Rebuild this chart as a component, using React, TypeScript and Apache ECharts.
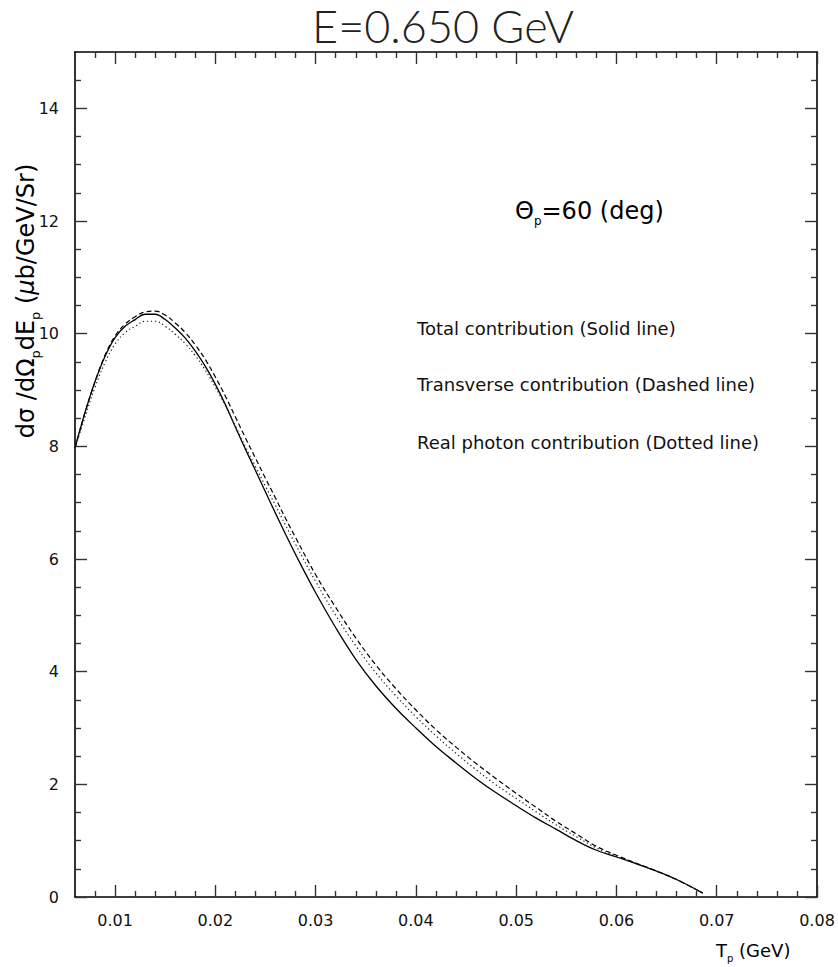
import React, { useEffect, useRef } from "react";
import * as echarts from "echarts";

// Kinetic energy of the proton T_p (GeV)
const tpValues = [
  0.006, 0.007, 0.008, 0.009, 0.01, 0.011, 0.012, 0.013, 0.014, 0.015, 0.016,
  0.017, 0.018, 0.019, 0.02, 0.021, 0.022, 0.023, 0.024, 0.025, 0.026, 0.027,
  0.028, 0.03, 0.032, 0.034, 0.036, 0.038, 0.04, 0.042, 0.044, 0.046, 0.048,
  0.05, 0.052, 0.054, 0.056, 0.058, 0.06, 0.062, 0.064, 0.066, 0.0686,
];
// Total contribution (solid line)
const totalValues = [
  7.97, 8.6, 9.15, 9.6, 9.93, 10.13, 10.25, 10.345, 10.345, 10.25, 10.1,
  9.92, 9.69, 9.42, 9.1, 8.74, 8.34, 7.95, 7.57, 7.19, 6.81, 6.44,
  6.08, 5.4, 4.78, 4.22, 3.75, 3.35, 3.0, 2.67, 2.38, 2.1, 1.85,
  1.62, 1.4, 1.2, 1.0, 0.83, 0.71, 0.59, 0.46, 0.31, 0.07,
];
// Transverse contribution (dashed line)
const transverseValues = [
  7.97, 8.6, 9.15, 9.62, 9.96, 10.17, 10.3, 10.385, 10.4, 10.33, 10.19,
  10.02, 9.8, 9.54, 9.23, 8.89, 8.52, 8.15, 7.79, 7.43, 7.08, 6.72,
  6.38, 5.72, 5.14, 4.6, 4.12, 3.7, 3.32, 2.97, 2.66, 2.37, 2.1,
  1.84, 1.59, 1.34, 1.12, 0.9, 0.74, 0.6, 0.46, 0.31, 0.07,
];
// Real photon contribution (dotted line)
const realPhotonValues = [
  7.97, 8.52, 9.05, 9.49, 9.82, 10.02, 10.13, 10.22, 10.22, 10.13, 9.99,
  9.82, 9.61, 9.35, 9.05, 8.72, 8.36, 7.99, 7.64, 7.29, 6.95, 6.6,
  6.26, 5.6, 5.0, 4.46, 3.98, 3.57, 3.2, 2.86, 2.55, 2.26, 1.99,
  1.75, 1.51, 1.28, 1.07, 0.87, 0.72, 0.59, 0.46, 0.31, 0.07,
];

const xMajorTicks = [0.01, 0.02, 0.03, 0.04, 0.05, 0.06, 0.07, 0.08];
const xMinorTicks = [
  0.008, 0.012, 0.014, 0.016, 0.018, 0.022, 0.024, 0.026, 0.028, 0.032, 0.034,
  0.036, 0.038, 0.042, 0.044, 0.046, 0.048, 0.052, 0.054, 0.056, 0.058, 0.062,
  0.064, 0.066, 0.068, 0.072, 0.074, 0.076, 0.078,
];
const yMajorTicks = [0, 2, 4, 6, 8, 10, 12, 14];
const yMinorTicks = [
  0.5, 1, 1.5, 2.5, 3, 3.5, 4.5, 5, 5.5, 6.5, 7, 7.5, 8.5, 9, 9.5, 10.5, 11,
  11.5, 12.5, 13, 13.5, 14.5,
];

const titleText = "E=0.650 GeV";
const annotationLines = [
  "Total contribution (Solid line)",
  "Transverse contribution (Dashed line)",
  "Real photon contribution (Dotted line)",
];

const X_MIN = 0.006;
const X_MAX = 0.08;
const Y_MIN = 0;
const Y_MAX = 15;

const FONT = "'DejaVu Sans', 'Noto Sans', sans-serif";
const INK = "#000";

function pairs(ys: number[]) {
  return tpValues.map((x, i) => [x, ys[i]]);
}

function makeXAxis(position: "top" | "bottom", major: boolean, labels: boolean) {
  return {
    type: "value",
    min: X_MIN,
    max: X_MAX,
    position,
    axisLine: { show: major, onZero: false, lineStyle: { color: INK, width: 1.6 } },
    axisTick: {
      show: true,
      inside: true,
      length: major ? 12 : 6,
      customValues: major ? xMajorTicks : xMinorTicks,
      lineStyle: { color: "#333", width: 1.4 },
    },
    axisLabel: {
      show: labels,
      customValues: xMajorTicks,
      margin: 15,
      fontSize: 16,
      fontFamily: FONT,
      color: "#111",
      formatter: (v: number) => v.toFixed(2),
    },
    splitLine: { show: false },
  };
}

function makeYAxis(position: "left" | "right", major: boolean, labels: boolean) {
  return {
    type: "value",
    min: Y_MIN,
    max: Y_MAX,
    position,
    axisLine: { show: major, onZero: false, lineStyle: { color: INK, width: 1.6 } },
    axisTick: {
      show: true,
      inside: true,
      length: major ? 12 : 6,
      customValues: major ? yMajorTicks : yMinorTicks,
      lineStyle: { color: "#333", width: 1.4 },
    },
    axisLabel: {
      show: labels,
      customValues: yMajorTicks,
      margin: 16,
      fontSize: 16,
      fontFamily: FONT,
      color: "#111",
      formatter: (v: number) => String(Math.round(v)),
    },
    splitLine: { show: false },
  };
}

const subRich = {
  n: { fontSize: 24, fontFamily: FONT, color: "#111", verticalAlign: "top", lineHeight: 28 },
  s: { fontSize: 13, fontFamily: FONT, color: "#111", verticalAlign: "bottom", lineHeight: 13 },
  m: { fontSize: 24, fontFamily: FONT, fontStyle: "italic", color: "#111", verticalAlign: "top", lineHeight: 28 },
};

export default function App() {
  const ref = useRef<HTMLDivElement>(null);

  useEffect(() => {
    if (!ref.current) return;
    const chart = echarts.init(ref.current, null, { renderer: "svg" });
    chart.setOption({
      animation: false,
      backgroundColor: "#fff",
      grid: { left: 75, right: 21, top: 52, bottom: 70, containLabel: false },
      xAxis: [
        makeXAxis("bottom", true, true),
        makeXAxis("bottom", false, false),
        makeXAxis("top", true, false),
        makeXAxis("top", false, false),
      ],
      yAxis: [
        makeYAxis("left", true, true),
        makeYAxis("left", false, false),
        makeYAxis("right", true, false),
        makeYAxis("right", false, false),
      ],
      series: [
        {
          name: "Total contribution",
          type: "line",
          data: pairs(totalValues),
          showSymbol: false,
          smooth: 0.4,
          lineStyle: { color: INK, width: 1.3, type: "solid" },
        },
        {
          name: "Transverse contribution",
          type: "line",
          data: pairs(transverseValues),
          showSymbol: false,
          smooth: 0.4,
          lineStyle: { color: INK, width: 1.2, type: [5, 3] },
        },
        {
          name: "Real photon contribution",
          type: "line",
          data: pairs(realPhotonValues),
          showSymbol: false,
          smooth: 0.4,
          lineStyle: { color: "#222", width: 1.2, type: [1.3, 2.7] },
        },
      ],
      graphic: [
        {
          type: "text",
          x: 443,
          y: 26,
          style: {
            text: titleText,
            fontSize: 45,
            fontWeight: 300,
            fontFamily: "Lato, 'DejaVu Sans', sans-serif",
            fill: "#222",
            align: "center",
            verticalAlign: "middle",
          },
        },
        {
          type: "text",
          x: 28,
          y: 301,
          rotation: Math.PI / 2,
          style: {
            text: "{n|dσ /dΩ}{s|p}{n|dE}{s|p}{n| (}{m|μ}{n|b/GeV/Sr)}",
            rich: subRich,
            align: "center",
            verticalAlign: "middle",
          },
        },
        {
          type: "text",
          x: 515,
          y: 213,
          style: {
            text: "{n|Θ}{s|p}{n|=60 (deg)}",
            rich: {
              n: { fontSize: 24, fontFamily: FONT, color: "#111", verticalAlign: "top", lineHeight: 28 },
              s: { fontSize: 12, fontFamily: FONT, color: "#111", verticalAlign: "bottom", lineHeight: 12 },
            },
            align: "left",
            verticalAlign: "middle",
          },
        },
        ...annotationLines.map((t, i) => ({
          type: "text",
          x: 417,
          y: [328, 384, 442][i],
          style: {
            text: t,
            fontSize: 18,
            fontFamily: FONT,
            fill: "#111",
            align: "left",
            verticalAlign: "middle",
          },
        })),
        {
          type: "text",
          x: 716,
          y: 952,
          style: {
            text: "{n|T}{s|p}{n| (GeV)}",
            rich: {
              n: { fontSize: 18, fontFamily: FONT, color: "#111", verticalAlign: "top", lineHeight: 22 },
              s: { fontSize: 10, fontFamily: FONT, color: "#111", verticalAlign: "bottom", lineHeight: 10 },
            },
            align: "left",
            verticalAlign: "middle",
          },
        },
      ],
    });
    return () => chart.dispose();
  }, []);

  return (
    <div
      ref={ref}
      style={{ position: "absolute", left: 0, top: 0, width: 838, height: 967, background: "#fff" }}
    />
  );
}
